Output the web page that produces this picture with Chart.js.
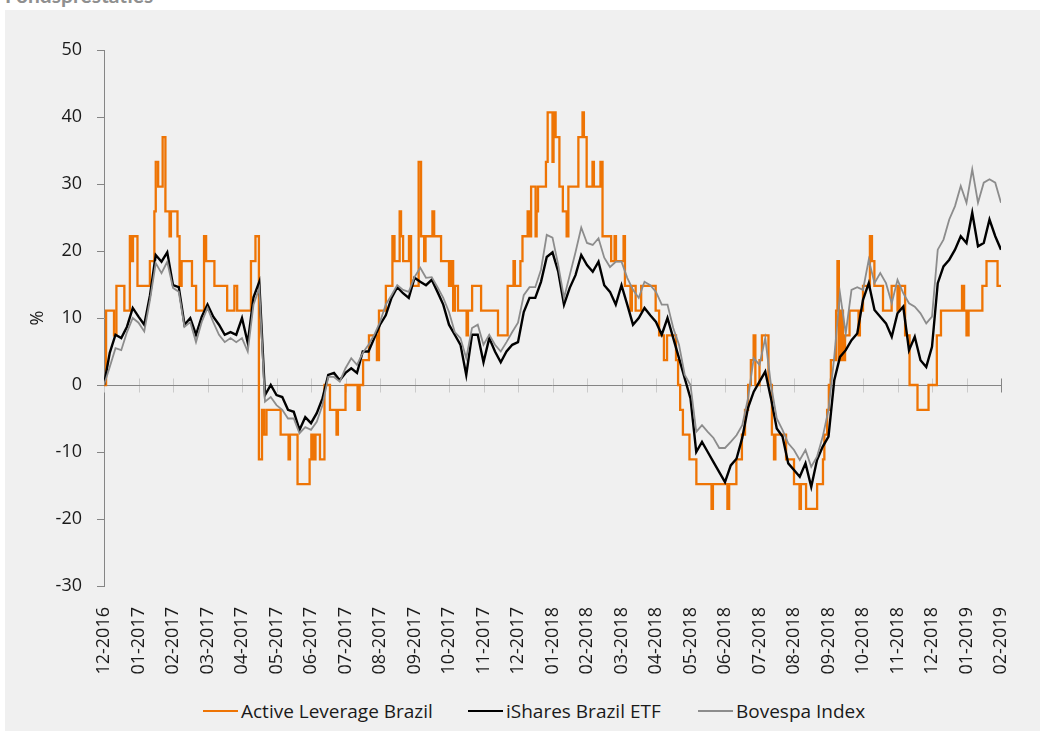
<!DOCTYPE html>
<html>
<head>
<meta charset="utf-8">
<script src="https://cdn.jsdelivr.net/npm/chart.js@4"></script>
<style>
  body { margin: 0; background: #fff; width: 1040px; height: 731px; overflow: hidden; position: relative; font-family: "Open Sans", sans-serif; }
  .title { position: absolute; left: 5px; top: -16px; font: 700 21px/21px Lato, sans-serif; color: #8f8f8f; }
  .panel { position: absolute; left: 5px; top: 10px; width: 1035px; height: 721px; background: #f0f0f0; }
  #chart { position: absolute; left: 0; top: 0; }
  .legend-item { position: absolute; top: 689px; height: 24px; display: flex; align-items: center; font-size: 19px; color: #1a1a1a; white-space: nowrap; }
  .legend-item i { display: inline-block; width: 35px; margin-right: 3px; }
</style>
</head>
<body>
<div class="title">Fondsprestaties</div>
<div class="panel">
  <canvas id="chart" width="1035" height="670"></canvas>
  <div class="legend-item" style="left:198px"><i style="border-top:2.5px solid #ee7404"></i>Active Leverage Brazil</div>
  <div class="legend-item" style="left:463px"><i style="border-top:2.5px solid #000"></i>iShares Brazil ETF</div>
  <div class="legend-item" style="left:693px"><i style="border-top:2px solid #8c8c8c"></i>Bovespa Index</div>
</div>
<script>
/* ===================== DATA ===================== */
// x axis: months since 12-2016
const monthLabels = ['12-2016','01-2017','02-2017','03-2017','04-2017','05-2017','06-2017','07-2017',
    '08-2017','09-2017','10-2017','11-2017','12-2017','01-2018','02-2018','03-2018','04-2018','05-2018',
    '06-2018','07-2018','08-2018','09-2018','10-2018','11-2018','12-2018','01-2019','02-2019'];

// black & gray lines are read every 1/6 month
const samplesPerMonth = 6;

const ishares = [0,4.8,7.5,7,8.7,11.5,10.2,9,13.4,19.4,18.4,19.8,14.9,14.6,9,10,7.5,10.2,12,10.2,9,7.5,7.9,7.5,10,6.3,13.1,15.4,
    -1.5,0,-1.5,-1.8,-3.7,-4,-6.7,-4.8,-5.7,-4.2,-2,1.5,1.8,0.7,1.8,2.5,1.8,5,5,7,9,10.4,13,14.6,13.7,13,16,15.4,14.9,15.7,
    13.9,12,9,7.5,6,1.5,7.5,7.5,3.4,7,5,3.4,5,6,6.4,10.9,13,13,15.4,19.1,19.8,16.9,12,14.5,16.4,19.4,17.9,16.9,18.4,14.9,
    13.9,12,14.9,12,9,10,11.5,10.4,9.4,7.5,10,7,4,1,-2,-10,-8.5,-10,-11.5,-13,-14.5,-12,-11,-7.9,-3.4,-1,0.5,2,-2,-6.5,
    -7.7,-11.7,-12.7,-13.7,-11.7,-15.2,-11.2,-9.2,-7.7,0.7,4.2,5.2,6.7,7.7,12.7,15.2,11.2,10.2,9.2,7.2,10.7,11.7,5.2,7.2,
    3.7,2.7,5.7,15.2,17.7,18.7,20.2,22.2,21.2,25.7,20.7,21.2,24.7,22.2,20.2];

const bovespa = [0,2.7,5.5,5.2,7.9,10,9.3,8,12.7,18.2,16.7,18.4,14.5,13.9,8.7,9.4,6.4,9.4,11.5,9.4,7.5,6.4,7,6.4,7,5,12,14.5,
    -2.5,-1.8,-3,-3.7,-5,-5,-7.2,-6.3,-6.7,-5.5,-3,1.2,1.2,0.5,2.5,4,3,4.8,6,7.5,9.4,12,13.4,14.9,14.2,13.9,16.1,17.5,16,16.1,
    14.6,13,10.9,7.9,7,4,8.5,9,6,7.5,6,5,6.4,7.9,9.3,13.4,14.6,14.6,17.2,22.4,22,17.9,13,16.4,19.8,23.5,21.2,20.9,21.9,19,
    17.6,18.4,18.4,16,14.2,13,15.4,14.9,13.9,12,12,8.5,6,1.5,0,-7,-6,-7,-7.9,-9.4,-9.4,-8.5,-7.5,-6,-2,4,3,7,0,-5,
    -6.7,-8.7,-9.7,-11.2,-9.7,-12.2,-10.7,-7.7,-3.7,4.2,13.7,7.7,14.2,14.6,14.2,18.7,15.2,16.7,15.2,12.2,15.7,13.7,12.2,11.7,
    10.7,9.2,10.2,20.2,21.7,24.7,26.7,29.7,27.2,32.2,27.2,30.2,30.7,30.2,27.2];

// Active Leverage Brazil moves in steps: month position where each level starts
const activeX = [0,0.06,0.29,0.36,0.59,0.75,0.81,0.84,0.97,1.33,1.46,1.50,1.57,1.70,1.78,1.90,1.94,2.13,2.19,2.25,2.55,2.67,
    2.90,2.96,3.20,3.57,3.78,3.86,4.26,4.39,4.49,4.58,4.64,4.71,5.12,5.35,5.39,5.61,5.96,6.01,6.07,6.13,6.26,6.39,6.55,6.74,
    6.78,7.00,7.35,7.41,7.51,7.68,7.91,7.97,8.17,8.36,8.42,8.57,8.61,8.67,8.84,8.90,9.12,9.19,9.28,9.32,9.52,9.57,9.77,
    10.00,10.06,10.12,10.17,10.26,10.51,10.55,10.67,10.93,11.42,11.70,11.87,11.91,12.07,12.13,12.28,12.33,12.38,12.51,12.54,
    12.58,12.81,12.86,13.00,13.03,13.09,13.20,13.30,13.41,13.46,13.75,13.87,13.91,13.99,14.16,14.20,14.39,14.45,14.70,14.80,
    14.84,15.06,15.10,15.26,15.30,15.41,15.57,15.99,16.09,16.23,16.32,16.58,16.64,16.70,16.78,16.97,17.17,17.61,17.65,18.07,
    18.12,18.33,18.49,18.58,18.67,18.75,18.83,18.88,19.00,19.07,19.26,19.36,19.42,19.46,19.77,20.00,20.16,20.20,20.35,20.67,
    20.84,20.88,20.96,21.01,21.07,21.22,21.26,21.30,21.36,21.42,21.48,21.61,21.87,21.91,22.00,22.20,22.26,22.33,22.58,22.83,
    23.00,23.06,23.22,23.35,23.58,23.90,24.14,24.26,24.87,24.93,25.00,25.06,25.46,25.58,25.90,26.00];
const activeY = [0,11.1,7.4,14.8,11.1,22.2,18.5,22.2,14.8,18.5,25.9,33.3,29.6,37,25.9,22.2,25.9,22.2,14.8,18.5,14.8,11.1,
    22.2,18.5,14.8,11.1,14.8,11.1,18.5,22.2,-11.1,-3.7,-7.4,-3.7,-7.4,-11.1,-7.4,-14.8,-11.1,-7.4,-11.1,-7.4,-11.1,0,-3.7,-7.4,
    -3.7,0,-3.7,0,3.7,7.4,3.7,11.1,14.8,22.2,18.5,25.9,22.2,18.5,22.2,14.8,33.3,22.2,18.5,22.2,25.9,22.2,18.5,
    14.8,18.5,11.1,14.8,11.1,7.4,11.1,14.8,11.1,7.4,14.8,18.5,14.8,18.5,22.2,25.9,22.2,29.6,22.2,25.9,
    29.6,33.3,40.7,33.3,40.7,37,29.6,25.9,22.2,29.6,37,40.7,37,29.6,33.3,29.6,33.3,22.2,18.5,22.2,
    18.5,22.2,14.8,11.1,14.8,11.1,14.8,11.1,7.4,3.7,7.4,3.7,0,-3.7,-7.4,-11.1,-14.8,-18.5,-14.8,-18.5,
    -14.8,-11.1,-7.4,-3.7,0,3.7,7.4,0,3.7,7.4,0,-7.4,-11.1,-7.4,-11.1,-14.8,-18.5,-14.8,-18.5,-14.8,
    -11.1,-7.4,-3.7,0,3.7,11.1,18.5,3.7,11.1,3.7,7.4,11.1,7.4,11.1,14.8,22.2,18.5,14.8,11.1,14.8,
    11.1,14.8,7.4,0,-3.7,0,7.4,11.1,14.8,11.1,7.4,11.1,14.8,18.5,14.8,14.8];

const yTicks = { min: -30, max: 50, step: 10 };

/* ===================== HELPERS ===================== */
const sampled = vals => vals.map((v, i) => ({ x: i / samplesPerMonth, y: v }));
const stepped = activeX.map((x, i) => ({ x, y: activeY[i] }));

const tickFont = { family: 'Open Sans', size: 18 };
const axisGrey = '#858585';

// zero line across the plot with crossing month ticks (x labels stay at the bottom)
const zeroAxis = {
    id: 'zeroAxis',
    beforeDatasetsDraw(chart) {
        const { ctx, chartArea, scales: { x, y } } = chart;
        const y0 = Math.round(y.getPixelForValue(0)) + 0.5;
        ctx.save();
        ctx.lineWidth = 1;
        x.ticks.forEach((t, i) => {
            const px = Math.round(x.getPixelForValue(t.value)) + 0.5;
            ctx.strokeStyle = i === x.ticks.length - 1 ? axisGrey : '#cbcbcb';
            ctx.beginPath();
            ctx.moveTo(px, y0 - 7);
            ctx.lineTo(px, y0 + 7);
            ctx.stroke();
        });
        ctx.strokeStyle = axisGrey;
        ctx.beginPath();
        ctx.moveTo(chartArea.left, y0);
        ctx.lineTo(chartArea.right, y0);
        ctx.stroke();
        ctx.restore();
    }
};

/* ===================== CHART ===================== */
new Chart(document.getElementById('chart').getContext('2d'), {
    type: 'line',
    data: {
        datasets: [
            {
                label: 'Active Leverage Brazil',
                data: stepped,
                stepped: 'before',
                borderColor: '#ee7404',
                borderWidth: 2.3,
                pointRadius: 0,
                order: 3
            },
            {
                label: 'iShares Brazil ETF',
                data: sampled(ishares),
                borderColor: '#000000',
                borderWidth: 2.4,
                pointRadius: 0,
                order: 2
            },
            {
                label: 'Bovespa Index',
                data: sampled(bovespa),
                borderColor: '#8c8c8c',
                borderWidth: 1.8,
                pointRadius: 0,
                order: 1
            }
        ]
    },
    options: {
        responsive: false,
        animation: false,
        layout: { padding: { left: 0, right: 39, top: 40, bottom: 0 } },
        plugins: {
            legend: { display: false },
            tooltip: { enabled: false }
        },
        scales: {
            x: {
                type: 'linear',
                position: 'bottom',
                min: 0,
                max: monthLabels.length - 1,
                afterFit: s => { s.height = 94; },
                ticks: {
                    stepSize: 1,
                    autoSkip: false,
                    minRotation: 90,
                    maxRotation: 90,
                    padding: 13,
                    color: '#1a1a1a',
                    font: tickFont,
                    callback: v => monthLabels[v]
                },
                grid: { display: false },
                border: { display: false }
            },
            y: {
                min: yTicks.min,
                max: yTicks.max,
                afterFit: s => { s.width = 99; },
                ticks: {
                    stepSize: yTicks.step,
                    padding: 15,
                    color: '#1a1a1a',
                    font: tickFont
                },
                grid: { drawOnChartArea: false, drawTicks: true, tickLength: 7, color: axisGrey },
                border: { color: axisGrey },
                title: {
                    display: true,
                    text: '%',
                    color: '#1a1a1a',
                    font: tickFont,
                    padding: { top: 22, bottom: 0 }
                }
            }
        }
    },
    plugins: [zeroAxis]
});
</script>
</body>
</html>
